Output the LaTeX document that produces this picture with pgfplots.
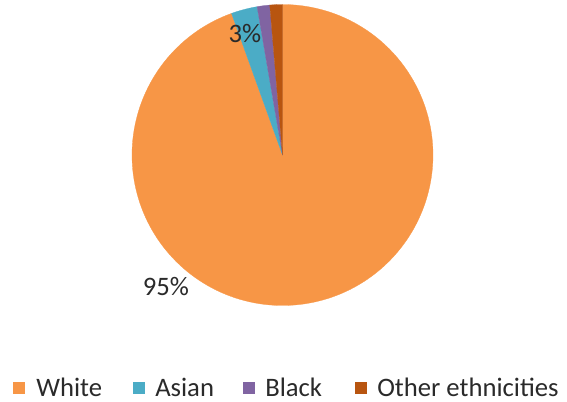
\documentclass[border=0pt]{standalone}
\usepackage{pgfplots}
\pgfplotsset{compat=1.18}
\usepackage{fontspec}
\setmainfont{Carlito}
\definecolor{cWhite}{HTML}{F79646}
\definecolor{cAsian}{HTML}{4BACC6}
\definecolor{cBlack}{HTML}{8064A2}
\definecolor{cOther}{HTML}{B85510}
\definecolor{txt}{HTML}{2A2A2A}
% shares in percent
\def\vWhite{94.5}
\def\vAsian{2.8}
\def\vBlack{1.35}
\def\vOther{1.35}
\begin{document}
\begin{tikzpicture}
\pgfmathsetmacro{\aA}{90}
\pgfmathsetmacro{\aB}{90-3.6*\vWhite}
\pgfmathsetmacro{\aC}{\aB-3.6*\vAsian}
\pgfmathsetmacro{\aD}{\aC-3.6*\vBlack}
\pgfmathsetmacro{\aE}{\aD-3.6*\vOther}
\def\cx{282.5}
\def\cy{246}
\def\rr{150.5}
\begin{axis}[
  width=425.25pt, height=300.75pt, scale only axis,
  xmin=0, xmax=567, ymin=0, ymax=401,
  hide axis, clip=false,
]
\addplot[draw=none, forget plot] coordinates {(0,0) (567,401)};
\addplot[fill=cWhite, draw=cWhite, line width=0.2pt, domain=\aB:\aA, samples=181]
  ({\cx+\rr*cos(x)},{\cy+\rr*sin(x)}) -- (axis cs:\cx,\cy) -- cycle;
\addplot[fill=cAsian, draw=cAsian, line width=0.2pt, domain=\aC:\aB, samples=10]
  ({\cx+\rr*cos(x)},{\cy+\rr*sin(x)}) -- (axis cs:\cx,\cy) -- cycle;
\addplot[fill=cBlack, draw=cBlack, line width=0.2pt, domain=\aD:\aC, samples=6]
  ({\cx+\rr*cos(x)},{\cy+\rr*sin(x)}) -- (axis cs:\cx,\cy) -- cycle;
\addplot[fill=cOther, draw=cOther, line width=0.2pt, domain=\aE:\aD, samples=6]
  ({\cx+\rr*cos(x)},{\cy+\rr*sin(x)}) -- (axis cs:\cx,\cy) -- cycle;
% data labels
\node[text=txt, font=\fontsize{20}{24}\selectfont] at (axis cs:166,114) {95\%};
\node[text=txt, font=\fontsize{20}{24}\selectfont] at (axis cs:245,367.5) {3\%};
% legend
\fill[cWhite] (axis cs:12.5,7) rectangle (axis cs:24.5,19);
\fill[cAsian] (axis cs:132.7,7) rectangle (axis cs:144.5,19);
\fill[cBlack] (axis cs:243,7) rectangle (axis cs:255,19);
\fill[cOther] (axis cs:355,7) rectangle (axis cs:367,19);
\node[anchor=base west, inner sep=0pt, text=txt, font=\fontsize{20}{24}\selectfont] at (axis cs:36,5) {White};
\node[anchor=base west, inner sep=0pt, text=txt, font=\fontsize{20}{24}\selectfont] at (axis cs:155,5) {Asian};
\node[anchor=base west, inner sep=0pt, text=txt, font=\fontsize{20}{24}\selectfont] at (axis cs:265,5) {Black};
\node[anchor=base west, inner sep=0pt, text=txt, font=\fontsize{20}{24}\selectfont] at (axis cs:377,5) {Other ethnicities};
\end{axis}
\end{tikzpicture}
\end{document}
